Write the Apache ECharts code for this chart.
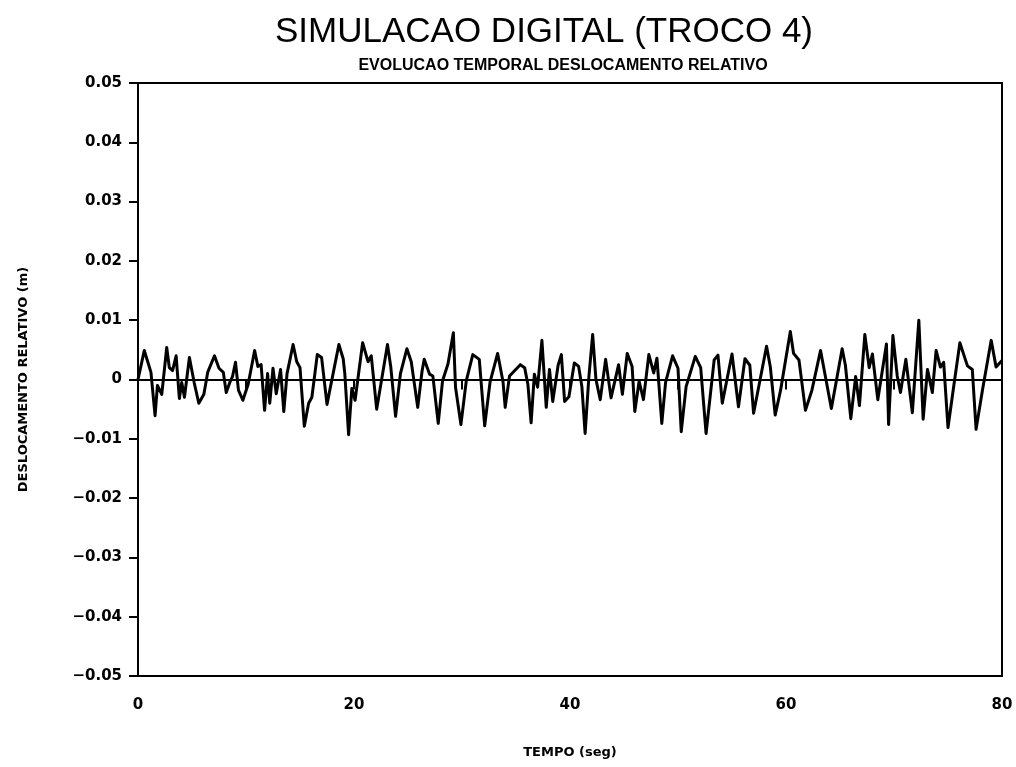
<!DOCTYPE html>
<html>
<head>
<meta charset="utf-8">
<script src="https://cdn.jsdelivr.net/npm/echarts@6/dist/echarts.min.js"></script>
<style>
  html, body { margin: 0; padding: 0; background: #fff; }
  #chart { width: 1016px; height: 767px; }
</style>
</head>
<body>
<div id="chart"></div>
<script>
// tempo (s) e deslocamento relativo (m)
var tempo = [
  0.0, 0.3, 0.58, 0.9, 1.2, 1.58, 1.8, 2.2, 2.66, 2.9, 3.2, 3.53, 3.83, 4.05, 4.3, 4.76,
  5.2, 5.63, 6.1, 6.45, 7.08, 7.5, 7.9, 8.17, 8.5, 8.75, 9.03, 9.3, 9.71, 10.2, 10.8, 11.1,
  11.4, 11.72, 12.0, 12.2, 12.5, 12.8, 13.2, 13.5, 13.8, 14.36, 14.7, 15.0, 15.4, 15.8, 16.1, 16.6,
  17.0, 17.5, 18.6, 19.0, 19.15, 19.5, 19.8, 20.1, 20.8, 21.3, 21.6, 22.1, 23.1, 23.4, 23.85, 24.3,
  24.9, 25.3, 25.9, 26.3, 26.5, 27.0, 27.3, 27.8, 28.2, 28.7, 29.2, 29.4, 29.9, 30.4, 31.0, 31.6,
  32.1, 32.6, 33.3, 33.8, 34.0, 34.4, 35.4, 35.8, 36.1, 36.4, 36.7, 37.0, 37.4, 37.65, 37.8, 38.1,
  38.4, 38.9, 39.2, 39.5, 39.9, 40.4, 40.8, 41.1, 41.4, 41.75, 42.1, 42.4, 42.8, 43.3, 43.8, 44.5,
  44.85, 45.3, 45.75, 46.0, 46.4, 46.8, 47.3, 47.75, 48.05, 48.5, 48.85, 49.5, 50.0, 50.3, 50.75, 51.6,
  52.1, 52.6, 53.35, 53.7, 54.1, 55.0, 55.6, 56.2, 56.65, 57.0, 58.2, 58.55, 59.0, 59.5, 60.4, 60.7,
  61.2, 61.8, 62.4, 63.2, 64.2, 65.2, 65.5, 66.0, 66.45, 66.8, 67.3, 67.7, 68.0, 68.5, 69.3, 69.5,
  69.9, 70.3, 70.6, 71.1, 71.7, 72.3, 72.7, 73.1, 73.55, 73.9, 74.3, 74.6, 75.0, 75.45, 76.1, 76.8,
  77.25, 77.6, 78.2, 79.0, 79.45, 80.0
];
var deslocamento = [
  0.0, 0.0025, 0.0049, 0.0030, 0.0012, -0.0061, -0.0010, -0.0025, 0.0054, 0.0020, 0.0015, 0.0040, -0.0032, -0.0005, -0.0030, 0.0037,
  -0.0005, -0.0040, -0.0025, 0.0012, 0.0040, 0.0019, 0.0012, -0.0022, -0.0005, 0.0005, 0.0029, -0.0018, -0.0035, -0.0008, 0.0049, 0.0022,
  0.0025, -0.0052, 0.0010, -0.0040, 0.0019, -0.0024, 0.0017, -0.0054, 0.0010, 0.0059, 0.0030, 0.0020, -0.0079, -0.0040, -0.0030, 0.0042,
  0.0037, -0.0042, 0.0059, 0.0035, 0.0010, -0.0093, -0.0015, -0.0035, 0.0062, 0.0030, 0.0040, -0.0050, 0.0059, 0.0022, -0.0062, 0.0010,
  0.0052, 0.0030, -0.0047, 0.0014, 0.0034, 0.0009, 0.0006, -0.0074, -0.0002, 0.0026, 0.0079, -0.0013, -0.0076, -0.0002, 0.0042, 0.0034,
  -0.0078, -0.0004, 0.0044, -0.0004, -0.0047, 0.0006, 0.0025, 0.0020, -0.0008, -0.0073, 0.0009, -0.0013, 0.0066, -0.0004, -0.0047, 0.0017,
  -0.0037, 0.0024, 0.0042, -0.0037, -0.0029, 0.0028, 0.0022, -0.0012, -0.0091, 0.0005, 0.0076, 0.0000, -0.0034, 0.0034, -0.0031, 0.0025,
  -0.0025, 0.0044, 0.0022, -0.0054, -0.0003, -0.0034, 0.0042, 0.0011, 0.0036, -0.0074, -0.0005, 0.0040, 0.0019, -0.0088, -0.0012, 0.0039,
  0.0020, -0.0091, 0.0033, 0.0041, -0.0040, 0.0043, -0.0046, 0.0035, 0.0024, -0.0057, 0.0056, 0.0021, -0.0060, -0.0018, 0.0081, 0.0044,
  0.0033, -0.0052, -0.0018, 0.0049, -0.0049, 0.0052, 0.0024, -0.0066, 0.0005, -0.0044, 0.0076, 0.0020, 0.0043, -0.0034, 0.0060, -0.0076,
  0.0074, 0.0006, -0.0022, 0.0034, -0.0056, 0.0100, -0.0067, 0.0017, -0.0022, 0.0049, 0.0021, 0.0029, -0.0081, -0.0022, 0.0062, 0.0023,
  0.0017, -0.0084, -0.0017, 0.0066, 0.0021, 0.0032
];
var xTicks = [0, 20, 40, 60, 80];

var dados = tempo.map(function (t, i) { return [t, deslocamento[i]]; });

var chart = echarts.init(document.getElementById('chart'));
var fonte = 'DejaVu Sans';

var option = {
  backgroundColor: '#fff',
  animation: false,
  title: [
    {
      text: 'SIMULACAO DIGITAL (TROCO 4)',
      left: 539,
      top: 10,
      textAlign: 'center',
      textStyle: { fontFamily: 'Liberation Sans', fontWeight: 'normal', fontSize: 35, color: '#000' }
    },
    {
      text: 'EVOLUCAO TEMPORAL DESLOCAMENTO RELATIVO',
      left: 558,
      top: 53,
      textAlign: 'center',
      textStyle: { fontFamily: 'Liberation Sans', fontWeight: 'bold', fontSize: 16, color: '#000' }
    }
  ],
  grid: {
    left: 138, right: 14, top: 83, bottom: 91,
    show: true, borderColor: '#000', borderWidth: 2, backgroundColor: 'transparent'
  },
  xAxis: {
    type: 'value',
    min: 0, max: 80, interval: 10,
    name: 'TEMPO (seg)',
    nameLocation: 'middle',
    nameGap: 70,
    nameTextStyle: { fontFamily: fonte, fontWeight: 'bold', fontSize: 13, color: '#000' },
    axisLine: { show: true, lineStyle: { color: '#000', width: 2 } },
    axisTick: { show: true, inside: false, length: 10, lineStyle: { color: '#000', width: 2 } },
    axisLabel: {
      margin: 22,
      fontFamily: fonte, fontWeight: 'bold', fontSize: 15, color: '#000',
      formatter: function (v) { return xTicks.indexOf(v) >= 0 ? String(v) : ''; }
    },
    splitLine: { show: false }
  },
  yAxis: {
    type: 'value',
    min: -0.05, max: 0.05, interval: 0.01,
    name: 'DESLOCAMENTO RELATIVO (m)',
    nameLocation: 'middle',
    nameGap: 108,
    nameRotate: 90,
    nameTextStyle: { fontFamily: fonte, fontWeight: 'bold', fontSize: 13, color: '#000' },
    axisLine: { show: true, lineStyle: { color: '#000', width: 2 } },
    axisTick: { show: true, inside: false, length: 9, lineStyle: { color: '#000', width: 2 } },
    axisLabel: {
      margin: 16,
      fontFamily: fonte, fontWeight: 'bold', fontSize: 15, color: '#000',
      formatter: function (v) {
        if (Math.abs(v) < 1e-9) return '0';
        return v.toFixed(2).replace('-', '\u2212');
      }
    },
    splitLine: { show: false }
  },
  series: [
    {
      type: 'line',
      data: dados,
      showSymbol: false,
      lineStyle: { color: '#000', width: 3, join: 'round' },
      itemStyle: { color: '#000' },
      markLine: {
        silent: true,
        symbol: 'none',
        label: { show: false },
        lineStyle: { color: '#000', width: 2, type: 'solid' },
        data: [{ yAxis: 0 }]
      }
    }
  ]
};

chart.setOption(option);
</script>
</body>
</html>
